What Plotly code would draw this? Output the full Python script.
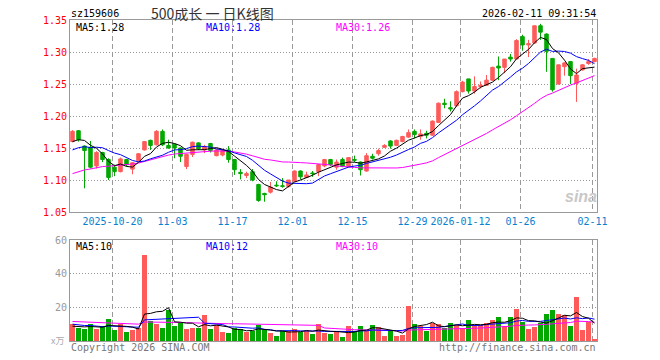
import plotly.graph_objects as go
import pandas as pd

# ---------------- data ----------------
tick_idx = [7, 17, 27, 37, 47, 57, 65, 75, 87]
tick_labels = ["2025-10-20", "11-03", "11-17", "12-01", "12-15", "12-29", "2026-01-12", "01-26", "02-11"]

opens = [1.160, 1.177, 1.153, 1.151, 1.122, 1.143, 1.132, 1.120, 1.113, 1.132,
         1.117, 1.130, 1.147, 1.162, 1.155, 1.176, 1.154, 1.156, 1.150, 1.121,
         1.140, 1.158, 1.147, 1.157, 1.138, 1.139, 1.147, 1.132, 1.112, 1.107,
         1.113, 1.093, 1.079, 1.081, 1.092, 1.091, 1.090, 1.098, 1.114, 1.104,
         1.111, 1.113, 1.122, 1.132, 1.120, 1.132, 1.121, 1.132, 1.128, 1.114,
         1.137, 1.141, 1.151, 1.161, 1.154, 1.160, 1.167, 1.176, 1.168, 1.173,
         1.170, 1.190, 1.220, 1.213, 1.216, 1.238, 1.258, 1.239, 1.246, 1.248,
         1.256, 1.278, 1.276, 1.292, 1.289, 1.324, 1.311, 1.314, 1.341, 1.328,
         1.290, 1.250, 1.277, 1.285, 1.251, 1.272, 1.282, 1.285]
closes = [1.176, 1.163, 1.146, 1.120, 1.143, 1.132, 1.104, 1.113, 1.133, 1.124,
          1.127, 1.141, 1.160, 1.154, 1.176, 1.155, 1.150, 1.150, 1.137, 1.140,
          1.159, 1.149, 1.152, 1.146, 1.147, 1.146, 1.132, 1.116, 1.110, 1.110,
          1.100, 1.068, 1.077, 1.089, 1.091, 1.090, 1.100, 1.114, 1.105, 1.108,
          1.110, 1.124, 1.132, 1.124, 1.128, 1.121, 1.135, 1.131, 1.116, 1.138,
          1.134, 1.146, 1.154, 1.153, 1.162, 1.168, 1.174, 1.171, 1.172, 1.170,
          1.192, 1.220, 1.218, 1.211, 1.238, 1.253, 1.239, 1.246, 1.248, 1.256,
          1.276, 1.275, 1.289, 1.289, 1.318, 1.311, 1.313, 1.341, 1.331, 1.301,
          1.241, 1.280, 1.283, 1.263, 1.264, 1.280, 1.285, 1.290]
highs = [1.178, 1.178, 1.154, 1.161, 1.145, 1.144, 1.134, 1.124, 1.135, 1.133,
         1.128, 1.142, 1.161, 1.163, 1.178, 1.179, 1.163, 1.157, 1.151, 1.141,
         1.160, 1.159, 1.155, 1.158, 1.149, 1.147, 1.153, 1.133, 1.117, 1.113,
         1.117, 1.094, 1.080, 1.097, 1.098, 1.103, 1.100, 1.115, 1.115, 1.113,
         1.114, 1.125, 1.133, 1.133, 1.132, 1.135, 1.136, 1.138, 1.129, 1.142,
         1.141, 1.149, 1.156, 1.162, 1.163, 1.169, 1.179, 1.179, 1.179, 1.177,
         1.193, 1.221, 1.227, 1.223, 1.240, 1.255, 1.258, 1.262, 1.254, 1.264,
         1.277, 1.293, 1.289, 1.297, 1.320, 1.327, 1.319, 1.341, 1.344, 1.329,
         1.290, 1.280, 1.284, 1.286, 1.274, 1.281, 1.289, 1.291]
lows = [1.159, 1.160, 1.087, 1.118, 1.118, 1.128, 1.100, 1.106, 1.112, 1.121,
        1.109, 1.129, 1.146, 1.147, 1.154, 1.153, 1.149, 1.134, 1.128, 1.117,
        1.136, 1.147, 1.142, 1.143, 1.137, 1.137, 1.127, 1.108, 1.101, 1.103,
        1.098, 1.066, 1.066, 1.079, 1.089, 1.088, 1.088, 1.097, 1.101, 1.103,
        1.105, 1.106, 1.120, 1.122, 1.116, 1.120, 1.120, 1.128, 1.107, 1.113,
        1.132, 1.138, 1.150, 1.149, 1.153, 1.159, 1.166, 1.165, 1.163, 1.165,
        1.169, 1.189, 1.212, 1.207, 1.214, 1.237, 1.235, 1.235, 1.243, 1.247,
        1.255, 1.256, 1.267, 1.285, 1.289, 1.302, 1.292, 1.313, 1.319, 1.269,
        1.238, 1.249, 1.263, 1.250, 1.222, 1.271, 1.280, 1.284]
volumes = [10, 7.8, 7.2, 10, 7.2, 8.8, 13, 6.4, 10, 5.2,
           6.4, 7.6, 50.8, 12, 10, 7.8, 18.4, 8.8, 10.8, 7.2,
           7.8, 7.6, 15.4, 7, 9.4, 5.4, 4.6, 8, 7, 5.4,
           6.2, 9.4, 6.8, 4.6, 2.8, 6.2, 6.2, 7, 5.4, 6.2,
           4, 10, 4.6, 4, 5.4, 2.2, 8.8, 6.2, 8.8, 6.2,
           9.4, 8.2, 2.8, 6.2, 2.8, 3.4, 20.8, 10, 8.8, 5.8,
           10.4, 10, 7.6, 10.6, 9.4, 7.6, 12.4, 9.4, 9.4, 10.8,
           12.4, 14.2, 8.8, 14.2, 19, 11.4, 7, 8.2, 10.6, 16,
           18.4, 16, 15.4, 8.8, 26, 6.4, 11, 1]
# history before the visible window (only used by the moving averages)
prev_closes = [1.070, 1.068, 1.074, 1.080, 1.082, 1.088, 1.094, 1.100, 1.097, 1.102,
               1.095, 1.088, 1.080, 1.078, 1.085, 1.092, 1.100, 1.112, 1.120, 1.125,
               1.128, 1.130, 1.135, 1.137, 1.140, 1.148, 1.152, 1.158, 1.166]
prev_volumes = [12, 14, 11, 13, 15, 10, 12, 13, 11, 14,
                12, 13, 12, 11, 12, 14, 13, 12, 11, 13,
                12, 11, 10, 12, 11, 9, 8, 9, 8]
# MA readouts as printed on the chart
price_ma_labels = ["MA5:1.28", "MA10:1.28", "MA30:1.26"]
vol_ma_labels = ["MA5:10", "MA10:12", "MA30:10"]
price_ticks = [1.05, 1.10, 1.15, 1.20, 1.25, 1.30, 1.35]
vol_ticks = [20, 40, 60]

# ---------------- derived ----------------
n = len(closes)
idx = list(range(n))
npv = len(prev_closes)
cs = pd.Series(prev_closes + closes)
vs = pd.Series(prev_volumes + volumes)
ma = {k: cs.rolling(k).mean().iloc[npv:].tolist() for k in (5, 10, 30)}
vma = {k: vs.rolling(k).mean().iloc[npv:].tolist() for k in (5, 10, 30)}

RED = "#ff5a5a"
GREEN = "#00a800"
vol_colors = [RED if c >= o else GREEN for o, c in zip(opens, closes)]

# the page body has an 8px default margin; work in page pixels and subtract it
OFF = 8
W, H = 660 - OFF, 360 - OFF
L, R, T, B = 70 - OFF, 597 - OFF, 20 - OFF, 341 - OFF
def px(x):
    return (x - OFF - L) / (R - L)
def py(y):
    return (B - (y - OFF)) / (B - T)

GRID = "#999999"
fig = go.Figure()
fig.add_trace(go.Candlestick(
    x=idx, open=opens, high=highs, low=lows, close=closes,
    increasing=dict(line=dict(color=RED, width=1), fillcolor=RED),
    decreasing=dict(line=dict(color=GREEN, width=1), fillcolor=GREEN),
    whiskerwidth=0, xaxis="x", yaxis="y", showlegend=False, hoverinfo="skip"))
for k, col in ((30, "#ff00ff"), (10, "#0000ff"), (5, "#000000")):
    fig.add_trace(go.Scatter(x=idx, y=ma[k], mode="lines", line=dict(color=col, width=1),
                             xaxis="x", yaxis="y", showlegend=False, hoverinfo="skip"))

fig.add_trace(go.Bar(x=idx, y=volumes, marker=dict(color=vol_colors, line=dict(width=0)),
                     width=0.83, xaxis="x2", yaxis="y2", showlegend=False, hoverinfo="skip"))
for k, col in ((30, "#ff00ff"), (10, "#0000ff"), (5, "#000000")):
    fig.add_trace(go.Scatter(x=idx, y=vma[k], mode="lines", line=dict(color=col, width=1),
                             xaxis="x2", yaxis="y2", showlegend=False, hoverinfo="skip"))

mono = "DejaVu Sans Mono"
tickpos = [t - 0.3333 for t in tick_idx]
xr = [-0.4167, n - 1 + 0.4167]
common_x = dict(range=xr, showline=True, linecolor="#999999", linewidth=1, mirror=True,
                showgrid=True, gridcolor=GRID, gridwidth=1, griddash="5px,3px",
                tickmode="array", tickvals=tickpos, zeroline=False, ticks="", fixedrange=True)
main_dom = [py(212), 1]
vol_dom = [0, py(240)]

fig.update_layout(
    template="none",
    width=W, height=H,
    margin=dict(l=L, r=W - R, t=T, b=H - B, pad=0),
    paper_bgcolor="white", plot_bgcolor="rgba(0,0,0,0)",
    boxgap=0.17,
    xaxis=dict(**common_x, anchor="y", ticktext=tick_labels, showticklabels=True,
               tickfont=dict(family=mono, size=10, color="#0a7fcf"),
               rangeslider=dict(visible=False)),
    yaxis=dict(domain=main_dom, range=[1.05, 1.35], tickmode="array", tickvals=price_ticks,
               tickformat=".2f", showline=True, linecolor="#999999", mirror=True,
               showgrid=True, gridcolor=GRID, gridwidth=1, griddash="1px,2px",
               zeroline=False, ticks="", fixedrange=True,
               tickfont=dict(family=mono, size=10, color="#ff0000")),
    xaxis2=dict(**common_x, anchor="y2", matches="x", ticktext=[""] * len(tickpos), showticklabels=False),
    yaxis2=dict(domain=vol_dom, range=[0, 60], tickmode="array", tickvals=vol_ticks, showline=True,
                linecolor="#999999", mirror=True, showgrid=True, gridcolor=GRID, gridwidth=1,
                griddash="1px,2px", zeroline=False, ticks="", fixedrange=True,
                tickfont=dict(family=mono, size=10, color="#999999")),
    bargap=0,
)

ann = []
def add(text, x, y, color="#000", size=10, xanchor="left", family=mono, **kw):
    ann.append(dict(text=text, x=px(x), y=py(y), xref="paper", yref="paper", showarrow=False,
                    xanchor=xanchor, yanchor="middle", font=dict(family=family, size=size, color=color), **kw))

add("sz159606", 69, 13)
add("500成长 一 日K线图", 149, 13, color="#333333", size=14, family="Noto Sans CJK SC")
add("2026-02-11 09:31:54", 598, 13, xanchor="right")
for lab, xx, col in zip(price_ma_labels, (74, 204, 334), ("#000000", "#0000ff", "#ff00ff")):
    add(lab, xx, 27, color=col)
for lab, xx, col in zip(vol_ma_labels, (74, 204, 334), ("#000000", "#0000ff", "#ff00ff")):
    add(lab, xx, 246, color=col)
add("x万", 66, 340, color="#aaaaaa", size=9, xanchor="right", family="Noto Sans CJK SC")
add("Copyright 2026 SINA.COM", 69, 347, color="#777777")
add("http://finance.sina.com.cn", 598, 347, color="#777777", xanchor="right")
add("<b><i>sina</i></b>", 581, 196, color="#c8c8c8", size=16, xanchor="center", family="Arial, Liberation Sans")
fig.update_layout(annotations=ann)

fig.write_html("out.html")
